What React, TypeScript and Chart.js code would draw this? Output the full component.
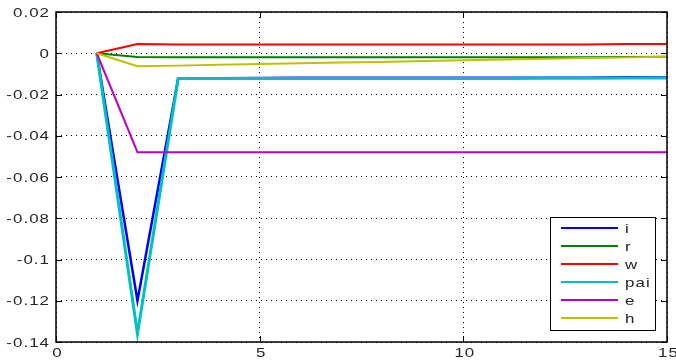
import React, { useEffect, useRef } from "react";
import { Chart, registerables } from "chart.js";

Chart.register(...registerables);

const xValues = [1, 2, 3, 4, 5, 6, 7, 8, 9, 10, 11, 12, 13, 14, 15];
const seriesI = [0, -0.12, -0.0121, -0.0121, -0.012, -0.0119, -0.0119, -0.0119, -0.0119, -0.0119, -0.0119, -0.0119, -0.0119, -0.0116, -0.0117];
const seriesR = [0, -0.0018, -0.0019, -0.0019, -0.0019, -0.0019, -0.0019, -0.0019, -0.0019, -0.0019, -0.0019, -0.0019, -0.0019, -0.0018, -0.0017];
const seriesW = [0, 0.0045, 0.0043, 0.0043, 0.0043, 0.0043, 0.0043, 0.0042, 0.0043, 0.0043, 0.0043, 0.0043, 0.0043, 0.0045, 0.0045];
const seriesPai = [0, -0.136, -0.0122, -0.0122, -0.0122, -0.0122, -0.0122, -0.0122, -0.0122, -0.0122, -0.0122, -0.0121, -0.0121, -0.012, -0.012];
const seriesE = [0, -0.048, -0.048, -0.048, -0.048, -0.048, -0.048, -0.048, -0.048, -0.048, -0.048, -0.048, -0.048, -0.048, -0.048];
const seriesH = [0, -0.0063, -0.006, -0.0056, -0.0052, -0.0049, -0.0045, -0.0042, -0.0038, -0.0034, -0.003, -0.0027, -0.0023, -0.002, -0.0017];
const seriesLabels = ["i", "r", "w", "pai", "e", "h"];
const seriesColors = ["#0000ff", "#008000", "#ff0000", "#00c0c0", "#c000c0", "#c0c000"];
const seriesWidths = [2.5, 2, 2, 3, 2, 2];
const xTicks = [0, 5, 10, 15];
const yTicks = [0.02, 0, -0.02, -0.04, -0.06, -0.08, -0.1, -0.12, -0.14];

const allSeries = [seriesI, seriesR, seriesW, seriesPai, seriesE, seriesH];

const fmtY = (v: number) => {
  if (Math.abs(v) < 1e-9) return "0";
  return parseFloat(v.toFixed(2)).toString();
};

const FONT = "13px 'Liberation Sans', Arial, sans-serif";
const SPACING = 0.8;
const STRETCH = 1.3;

function drawWide(ctx: any, text: string, x: number, y: number, align: "right" | "center" | "left") {
  ctx.save();
  ctx.letterSpacing = SPACING + "px";
  ctx.textAlign = "left";
  const w = (ctx.measureText(text).width - SPACING) * STRETCH;
  let sx = x;
  if (align === "right") sx = x - w;
  else if (align === "center") sx = x - w / 2;
  ctx.translate(sx, y);
  ctx.scale(STRETCH, 1);
  ctx.fillText(text, 0, 0);
  ctx.restore();
}

const framePlugin = {
  id: "frame",
  afterDatasetsDraw(chart: any) {
    const { ctx, chartArea } = chart;
    const { left, right, top, bottom } = chartArea;
    ctx.save();
    ctx.strokeStyle = "#000";
    ctx.lineWidth = 1;
    const xs = chart.scales.x;
    const ys = chart.scales.y;
    ctx.beginPath();
    for (const t of xTicks) {
      const px = Math.round(xs.getPixelForValue(t)) + 0.5;
      ctx.moveTo(px, bottom);
      ctx.lineTo(px, bottom - 6);
      ctx.moveTo(px, top);
      ctx.lineTo(px, top + 6);
    }
    for (const t of yTicks) {
      const py = Math.round(ys.getPixelForValue(t)) + 0.5;
      ctx.moveTo(left, py);
      ctx.lineTo(left + 6, py);
      ctx.moveTo(right, py);
      ctx.lineTo(right - 6, py);
    }
    ctx.stroke();
    ctx.strokeStyle = "#000";
    ctx.lineWidth = 1.5;
    ctx.strokeRect(left, top, right - left, bottom - top);

    ctx.font = FONT;
    ctx.fillStyle = "#262626";
    ctx.textBaseline = "middle";
    for (const t of yTicks) {
      const py = ys.getPixelForValue(t);
      drawWide(ctx, fmtY(t), left - 7, py + 1, "right");
    }
    ctx.textBaseline = "top";
    for (const t of xTicks) {
      const px = xs.getPixelForValue(t);
      drawWide(ctx, String(t), px + 1, bottom + 5, "center");
    }

    const lx = 550, ly = 217, lw = 105, lh = 113;
    ctx.fillStyle = "#fff";
    ctx.fillRect(lx, ly, lw, lh);
    ctx.strokeStyle = "#000";
    ctx.lineWidth = 1;
    ctx.strokeRect(lx + 0.5, ly + 0.5, lw, lh);
    ctx.font = FONT;
    ctx.textBaseline = "middle";
    chart.data.datasets.forEach((ds: any, i: number) => {
      const y = ly + 11 + i * 18;
      ctx.strokeStyle = ds.borderColor;
      ctx.lineWidth = 2;
      ctx.beginPath();
      ctx.moveTo(561, y);
      ctx.lineTo(618, y);
      ctx.stroke();
      ctx.fillStyle = "#262626";
      drawWide(ctx, ds.label, 625, y + 1, "left");
    });
    ctx.restore();
  },
};

export default function App() {
  const ref = useRef<HTMLCanvasElement>(null);
  useEffect(() => {
    document.body.style.margin = "0";
    const canvas = ref.current!;
    const chart = new Chart(canvas, {
      type: "line",
      data: {
        datasets: allSeries.map((s, i) => ({
          label: seriesLabels[i],
          data: xValues.map((x, j) => ({ x, y: s[j] })),
          borderColor: seriesColors[i],
          backgroundColor: seriesColors[i],
          borderWidth: seriesWidths[i],
          pointRadius: 0,
          tension: 0,
          fill: false,
          order: allSeries.length - i,
        })),
      },
      options: {
        animation: false,
        responsive: false,
        maintainAspectRatio: false,
        layout: { padding: { top: 12, right: 9, left: 0, bottom: 0 } },
        plugins: { legend: { display: false }, tooltip: { enabled: false } },
        scales: {
          x: {
            type: "linear",
            min: 0,
            max: 15,
            afterBuildTicks: (axis: any) => {
              axis.ticks = xTicks.map((v) => ({ value: v }));
            },
            afterFit: (axis: any) => {
              axis.height = 20;
            },
            ticks: { display: false, autoSkip: false },
            grid: { color: "#000", lineWidth: 1, drawTicks: false, tickLength: 0 },
            border: { display: false, dash: [1, 4] },
          },
          y: {
            type: "linear",
            min: -0.14,
            max: 0.02,
            afterBuildTicks: (axis: any) => {
              axis.ticks = yTicks.map((v) => ({ value: v }));
            },
            afterFit: (axis: any) => {
              axis.width = 56;
            },
            ticks: { display: false, autoSkip: false },
            grid: { color: "#000", lineWidth: 1, drawTicks: false, tickLength: 0 },
            border: { display: false, dash: [1, 4] },
          },
        },
      },
      plugins: [framePlugin],
    } as any);
    return () => chart.destroy();
  }, []);
  return (
    <div style={{ width: 676, height: 362, background: "#fff" }}>
      <canvas ref={ref} width={676} height={362} style={{ display: "block" }} />
    </div>
  );
}
